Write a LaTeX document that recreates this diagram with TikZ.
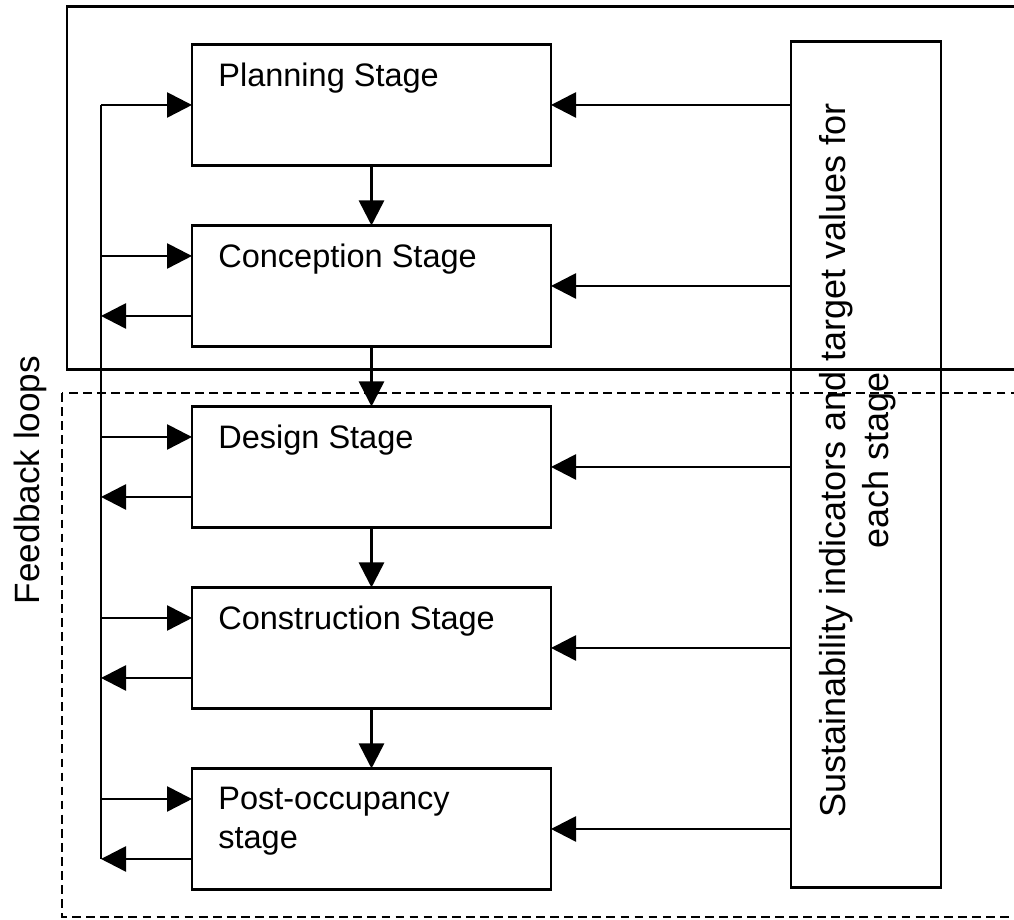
\documentclass[tikz,border=0pt]{standalone}
\usepackage{fontspec}
\setmainfont{Liberation Sans}
\usetikzlibrary{arrows.meta,positioning}
\tikzset{
  stage/.style={draw,line width=1.7pt,minimum width=7.18cm,minimum height=2.42cm,inner sep=0pt,outer sep=0pt},
  stagetxt/.style={anchor=north west,inner sep=0pt,align=left,font=\fontsize{18.5}{22}\selectfont},
  arr/.style={-{Triangle[length=5mm,width=5mm]},line width=1.5pt},
}

\begin{document}
\begin{tikzpicture}[x=1cm,y=1cm]
  \useasboundingbox (0,0) rectangle (20.28,18.4);
  \fill[white] (0,0) rectangle (20.28,18.4);
  \clip (0,0) rectangle (20.28,18.4);

  % the two phases
  \draw[line width=1.7pt] (1.34,18.26) rectangle (21,11.0);
  \draw[line width=1.4pt,dash pattern=on 5pt off 3pt] (1.24,10.54) rectangle (21,0.06);

  % stages
  \node[stage] (plan) at (7.43,16.3) {};
  \node[stage,below=1.2cm of plan] (conc) {};
  \node[stage,below=1.2cm of conc] (des) {};
  \node[stage,below=1.2cm of des] (cons) {};
  \node[stage,below=1.2cm of cons] (post) {};

  \node[stagetxt] (plant) at ([xshift=0.52cm,yshift=-0.37cm]plan.north west) {Planning Stage};
  \node[stagetxt] (conct) at ([xshift=0.52cm,yshift=-0.37cm]conc.north west) {Conception Stage};
  \node[stagetxt] (dest) at ([xshift=0.52cm,yshift=-0.37cm]des.north west) {Design Stage};
  \node[stagetxt] (const) at ([xshift=0.52cm,yshift=-0.37cm]cons.north west) {Construction Stage};
  \node[stagetxt] (postt) at ([xshift=0.52cm,yshift=-0.37cm]post.north west) {Post-occupancy\\stage};

  % indicators
  \node[draw,line width=1.7pt,minimum width=3cm,minimum height=16.92cm,outer sep=0pt] (ind) at (17.32,9.1) {};
  \node[rotate=90,align=center,font=\fontsize{20.5}{24.5}\selectfont] (indtxt) at (17.16,9.19)
    {Sustainability indicators and target values for\\each stage};

  % feedback
  \node[rotate=90,font=\fontsize{20}{24}\selectfont] (fbtxt) at (0.6,8.8) {Feedback loops};
  \coordinate (fbtop) at (2.02,16.3);
  \coordinate (fbbot) at ([yshift=-0.6cm]post.west -| fbtop);
  \draw[line width=1.5pt] (fbtop) -- (fbbot);
  \draw[arr] (fbtop) -- (plan.west);
  \foreach \s in {conc,des,cons,post} {
    \draw[arr] ([yshift=0.6cm]\s.west -| fbtop) -- ([yshift=0.6cm]\s.west);
    \draw[arr] ([yshift=-0.6cm]\s.west) -- ([yshift=-0.6cm]\s.west -| fbtop);
  }

  \foreach \a/\b in {plan/conc,conc/des,des/cons,cons/post}
    \draw[arr] (\a) -- (\b);
  \foreach \s in {plan,conc,des,cons,post}
    \draw[arr] (\s.east -| ind.west) -- (\s.east);
\end{tikzpicture}
\end{document}
